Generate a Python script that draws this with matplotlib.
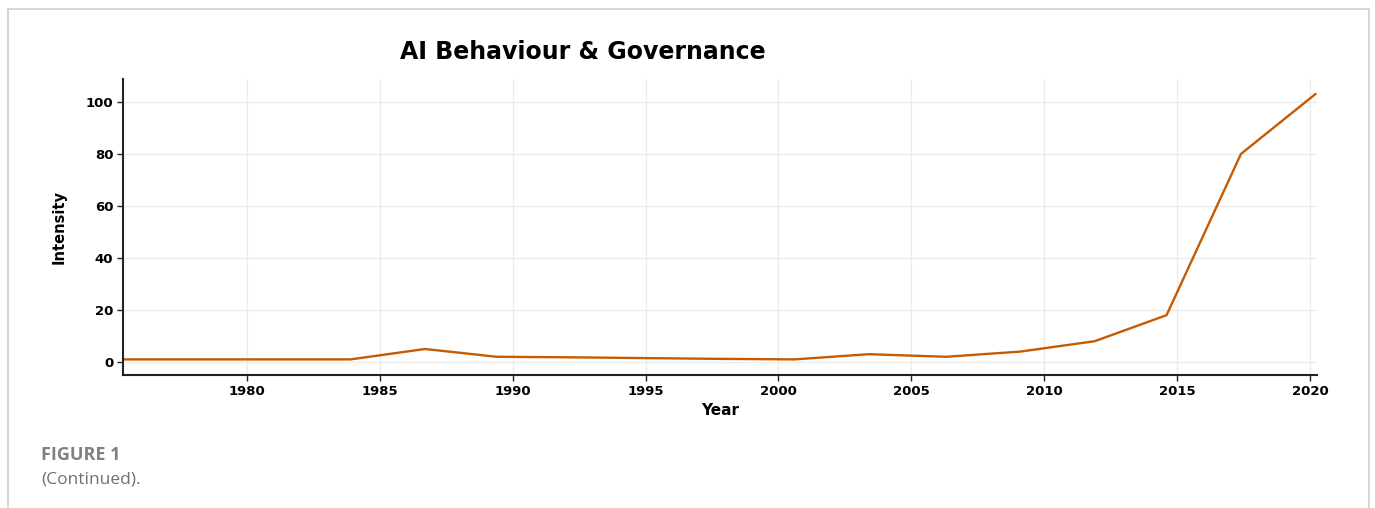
import matplotlib.pyplot as plt
from matplotlib.patches import Rectangle

# data
years = [1975.3, 1978.1, 1980.9, 1983.9, 1986.7, 1989.4, 1992.2, 1995.0, 1997.8,
         2000.6, 2003.4, 2006.3, 2009.1, 2011.9, 2014.6, 2017.4, 2020.2]
intensity = [1, 1, 1, 1, 5, 2, 1.8, 1.5, 1.2, 1, 3, 2, 4, 8, 18, 80, 103]
x_ticks = [1980, 1985, 1990, 1995, 2000, 2005, 2010, 2015, 2020]
y_ticks = [0, 20, 40, 60, 80, 100]

fig = plt.figure(figsize=(13.75, 5.08), dpi=100)

# light frame round the figure panel
fig.patches.append(Rectangle((8 / 1375, -0.05), (1369 - 8) / 1375, 1.05 - 9 / 508,
                             transform=fig.transFigure, fill=False,
                             edgecolor="#d0d0d0", linewidth=1.2))

ax = fig.add_axes([123 / 1375, 1 - 375 / 508, (1317 - 123) / 1375, (375 - 79) / 508])
ax.plot(years, intensity, color="#c65a00", linewidth=1.7)

ax.set_xlim(1975.34, 2020.26)
ax.set_ylim(-5, 108.8)
ax.set_xticks(x_ticks)
ax.set_yticks(y_ticks)
ax.grid(True, color="#ebebeb", linewidth=1)
ax.set_axisbelow(True)
for side in ["top", "right"]:
    ax.spines[side].set_visible(False)
for side in ["left", "bottom"]:
    ax.spines[side].set_color("#222222")
    ax.spines[side].set_linewidth(1.5)
ax.tick_params(axis="both", labelsize=9.5, length=4, width=1, color="#222222", pad=3)
for lab in ax.get_xticklabels() + ax.get_yticklabels():
    lab.set_fontweight("bold")

ax.set_xlabel("Year", fontsize=11, fontweight="bold", labelpad=4)
ax.set_ylabel("Intensity", fontsize=10.5, fontweight="bold", labelpad=14)

fig.text(583 / 1375, 1 - 52 / 508, "AI Behaviour & Governance", fontsize=17,
         fontweight="bold", ha="center", va="center")

fig.text(41 / 1375, 1 - 455 / 508, "FIGURE 1", fontsize=13, fontweight="bold",
         color="#808080", family="Open Sans", va="center")
fig.text(41 / 1375, 1 - 479 / 508, "(Continued).", fontsize=12.5,
         color="#707070", family="Open Sans", va="center")

fig.savefig("out.png", dpi=100)
